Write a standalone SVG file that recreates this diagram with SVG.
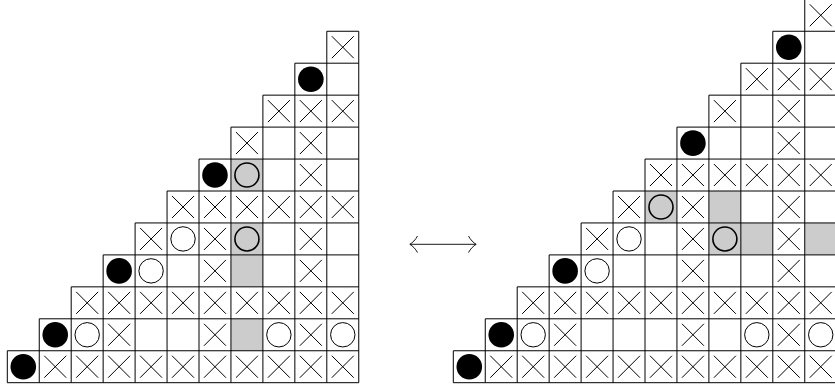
<svg xmlns="http://www.w3.org/2000/svg" xmlns:xlink="http://www.w3.org/1999/xlink" width="835" height="389" viewBox="0 0 835 389">
<style>
.grid{fill:none;stroke:#000;stroke-width:1}
.sh{fill:#cccccc;stroke:none}
.xm{fill:none;stroke:#000;stroke-width:1}
.dot{fill:#000}
.o{fill:#fff;stroke:#000;stroke-width:1}
.og{fill:none;stroke:#000;stroke-width:1.6}
.arr{fill:none;stroke:#000;stroke-width:0.9}
</style>
<defs>
<path id="x" class="xm" d="M-11 -11L11 11M11 -11L-11 11"/>
<circle id="d" class="dot" r="12.8"/>
<circle id="o" class="o" r="12.2"/>
<circle id="g" class="og" r="12"/>
</defs>
<rect width="835" height="389" fill="#fff"/>
<g id="left-diagram">
<g id="left-shading">
<rect class="sh" x="230.95" y="318.8" width="31.95" height="31.95"/>
<rect class="sh" x="230.95" y="254.9" width="31.95" height="31.95"/>
<rect class="sh" x="230.95" y="222.95" width="31.95" height="31.95"/>
<rect class="sh" x="230.95" y="159.05" width="31.95" height="31.95"/>
</g>
<path id="left-grid" class="grid" d="M7.3 382.7H358.75M7.3 350.75H358.75M39.25 318.8H358.75M71.2 286.85H358.75M103.15 254.9H358.75M135.1 222.95H358.75M167.05 191H358.75M199 159.05H358.75M230.95 127.1H358.75M262.9 95.15H358.75M294.85 63.2H358.75M326.8 31.25H358.75M7.3 382.7V350.75M39.25 382.7V318.8M71.2 382.7V286.85M103.15 382.7V254.9M135.1 382.7V222.95M167.05 382.7V191M199 382.7V159.05M230.95 382.7V127.1M262.9 382.7V95.15M294.85 382.7V63.2M326.8 382.7V31.25M358.75 382.7V31.25"/>
<g id="left-row0">
<use href="#d" x="23.28" y="366.73"/>
<use href="#x" x="55.23" y="366.73"/><use href="#x" x="87.18" y="366.73"/><use href="#x" x="119.13" y="366.73"/><use href="#x" x="151.08" y="366.73"/><use href="#x" x="183.03" y="366.73"/><use href="#x" x="214.98" y="366.73"/><use href="#x" x="246.93" y="366.73"/><use href="#x" x="278.88" y="366.73"/><use href="#x" x="310.83" y="366.73"/><use href="#x" x="342.78" y="366.73"/>
</g>
<g id="left-row1">
<use href="#d" x="55.23" y="334.78"/><use href="#o" x="87.18" y="334.78"/><use href="#x" x="119.13" y="334.78"/><use href="#x" x="214.98" y="334.78"/><use href="#o" x="278.88" y="334.78"/><use href="#x" x="310.83" y="334.78"/><use href="#o" x="342.78" y="334.78"/>
</g>
<g id="left-row2">
<use href="#x" x="87.18" y="302.83"/><use href="#x" x="119.13" y="302.83"/><use href="#x" x="151.08" y="302.83"/><use href="#x" x="183.03" y="302.83"/><use href="#x" x="214.98" y="302.83"/><use href="#x" x="246.93" y="302.83"/><use href="#x" x="278.88" y="302.83"/><use href="#x" x="310.83" y="302.83"/><use href="#x" x="342.78" y="302.83"/>
</g>
<g id="left-row3">
<use href="#d" x="119.13" y="270.88"/><use href="#o" x="151.08" y="270.88"/><use href="#x" x="214.98" y="270.88"/><use href="#x" x="310.83" y="270.88"/>
</g>
<g id="left-row4">
<use href="#x" x="151.08" y="238.93"/><use href="#o" x="183.03" y="238.93"/><use href="#x" x="214.98" y="238.93"/><use href="#g" x="246.93" y="238.93"/><use href="#x" x="310.83" y="238.93"/>
</g>
<g id="left-row5">
<use href="#x" x="183.03" y="206.98"/><use href="#x" x="214.98" y="206.98"/><use href="#x" x="246.93" y="206.98"/><use href="#x" x="278.88" y="206.98"/><use href="#x" x="310.83" y="206.98"/><use href="#x" x="342.78" y="206.98"/>
</g>
<g id="left-row6">
<use href="#d" x="214.98" y="175.03"/><use href="#g" x="246.93" y="175.03"/><use href="#x" x="310.83" y="175.03"/>
</g>
<g id="left-row7">
<use href="#x" x="246.93" y="143.08"/><use href="#x" x="310.83" y="143.08"/>
</g>
<g id="left-row8">
<use href="#x" x="278.88" y="111.13"/><use href="#x" x="310.83" y="111.13"/><use href="#x" x="342.78" y="111.13"/>
</g>
<g id="left-row9">
<use href="#d" x="310.83" y="79.18"/>
</g>
<g id="left-row10">
<use href="#x" x="342.78" y="47.23"/>
</g>
</g>
<g id="right-diagram">
<g id="right-shading">
<rect class="sh" x="708.9" y="222.95" width="31.95" height="31.95"/>
<rect class="sh" x="740.85" y="222.95" width="31.95" height="31.95"/>
<rect class="sh" x="804.75" y="222.95" width="31.95" height="31.95"/>
<rect class="sh" x="645" y="191" width="31.95" height="31.95"/>
<rect class="sh" x="708.9" y="191" width="31.95" height="31.95"/>
</g>
<path id="right-grid" class="grid" d="M453.3 382.7H836.7M453.3 350.75H836.7M485.25 318.8H836.7M517.2 286.85H836.7M549.15 254.9H836.7M581.1 222.95H836.7M613.05 191H836.7M645 159.05H836.7M676.95 127.1H836.7M708.9 95.15H836.7M740.85 63.2H836.7M772.8 31.25H836.7M453.3 382.7V350.75M485.25 382.7V318.8M517.2 382.7V286.85M549.15 382.7V254.9M581.1 382.7V222.95M613.05 382.7V191M645 382.7V159.05M676.95 382.7V127.1M708.9 382.7V95.15M740.85 382.7V63.2M772.8 382.7V31.25M804.75 382.7V-0.7"/>
<g id="right-row0">
<use href="#d" x="469.28" y="366.73"/>
<use href="#x" x="501.23" y="366.73"/><use href="#x" x="533.18" y="366.73"/><use href="#x" x="565.13" y="366.73"/><use href="#x" x="597.08" y="366.73"/><use href="#x" x="629.03" y="366.73"/><use href="#x" x="660.98" y="366.73"/><use href="#x" x="692.93" y="366.73"/><use href="#x" x="724.88" y="366.73"/><use href="#x" x="756.83" y="366.73"/><use href="#x" x="788.78" y="366.73"/><use href="#x" x="820.73" y="366.73"/>
</g>
<g id="right-row1">
<use href="#d" x="501.23" y="334.78"/><use href="#o" x="533.18" y="334.78"/><use href="#x" x="565.13" y="334.78"/><use href="#x" x="692.93" y="334.78"/><use href="#o" x="756.83" y="334.78"/><use href="#x" x="788.78" y="334.78"/><use href="#o" x="820.73" y="334.78"/>
</g>
<g id="right-row2">
<use href="#x" x="533.18" y="302.83"/><use href="#x" x="565.13" y="302.83"/><use href="#x" x="597.08" y="302.83"/><use href="#x" x="629.03" y="302.83"/><use href="#x" x="660.98" y="302.83"/><use href="#x" x="692.93" y="302.83"/><use href="#x" x="724.88" y="302.83"/><use href="#x" x="756.83" y="302.83"/><use href="#x" x="788.78" y="302.83"/><use href="#x" x="820.73" y="302.83"/>
</g>
<g id="right-row3">
<use href="#d" x="565.13" y="270.88"/><use href="#o" x="597.08" y="270.88"/><use href="#x" x="692.93" y="270.88"/><use href="#x" x="788.78" y="270.88"/>
</g>
<g id="right-row4">
<use href="#x" x="597.08" y="238.93"/><use href="#o" x="629.03" y="238.93"/><use href="#x" x="692.93" y="238.93"/><use href="#g" x="724.88" y="238.93"/><use href="#x" x="788.78" y="238.93"/>
</g>
<g id="right-row5">
<use href="#x" x="629.03" y="206.98"/><use href="#g" x="660.98" y="206.98"/><use href="#x" x="692.93" y="206.98"/><use href="#x" x="788.78" y="206.98"/>
</g>
<g id="right-row6">
<use href="#x" x="660.98" y="175.03"/><use href="#x" x="692.93" y="175.03"/><use href="#x" x="724.88" y="175.03"/><use href="#x" x="756.83" y="175.03"/><use href="#x" x="788.78" y="175.03"/><use href="#x" x="820.73" y="175.03"/>
</g>
<g id="right-row7">
<use href="#d" x="692.93" y="143.08"/><use href="#x" x="788.78" y="143.08"/>
</g>
<g id="right-row8">
<use href="#x" x="724.88" y="111.13"/><use href="#x" x="788.78" y="111.13"/>
</g>
<g id="right-row9">
<use href="#x" x="756.83" y="79.18"/><use href="#x" x="788.78" y="79.18"/><use href="#x" x="820.73" y="79.18"/>
</g>
<g id="right-row10">
<use href="#d" x="788.78" y="47.23"/>
</g>
<g id="right-row11">
<use href="#x" x="820.73" y="15.28"/>
</g>
</g>
<g id="connectors">
<path class="arr" d="M410 244.3H476"/>
<path class="arr" d="M417.5 236C415.5 239.8 412.6 242.8 409.8 244.3C412.6 245.8 415.5 248.8 417.5 252.6"/>
<path class="arr" d="M468.5 236C470.5 239.8 473.4 242.8 476.2 244.3C473.4 245.8 470.5 248.8 468.5 252.6"/>
</g>
</svg>
